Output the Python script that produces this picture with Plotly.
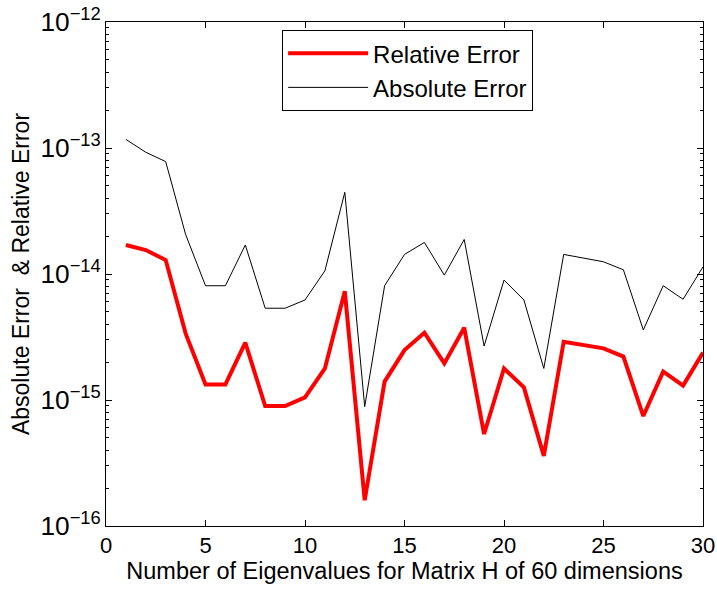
import plotly.graph_objects as go

x_vals = list(range(1, 31))
absolute_error = [1.17e-13, 9.25e-14, 7.8e-14, 2.06e-14, 8.07e-15, 8.07e-15, 1.70e-14, 5.35e-15, 5.35e-15, 6.22e-15,
                  1.06e-14, 4.45e-14, 8.85e-16, 8.07e-15, 1.43e-14, 1.78e-14, 9.8e-15, 1.88e-14, 2.68e-15, 8.95e-15,
                  6.22e-15, 1.78e-15, 1.43e-14, 1.33e-14, 1.25e-14, 1.08e-14, 3.6e-15, 8.07e-15, 6.3e-15, 1.14e-14]
relative_error = [1.70e-14, 1.55e-14, 1.29e-14, 3.38e-15, 1.33e-15, 1.33e-15, 2.85e-15, 8.96e-16, 8.96e-16, 1.05e-15,
                  1.78e-15, 7.3e-15, 1.6e-16, 1.40e-15, 2.49e-15, 3.42e-15, 1.95e-15, 3.75e-15, 5.37e-16, 1.78e-15,
                  1.26e-15, 3.6e-16, 2.9e-15, 2.74e-15, 2.57e-15, 2.21e-15, 7.46e-16, 1.68e-15, 1.30e-15, 2.38e-15]

FONT = "Liberation Sans, Arial, sans-serif"

fig = go.Figure()
fig.add_trace(go.Scatter(x=x_vals, y=relative_error, mode="lines", name="Relative Error",
                         line=dict(color="#ff0000", width=4)))
fig.add_trace(go.Scatter(x=x_vals, y=absolute_error, mode="lines", name="Absolute Error",
                         line=dict(color="#000000", width=1)))

fig.update_layout(
    width=717, height=591,
    margin=dict(l=106, r=14, t=22, b=65),
    paper_bgcolor="white", plot_bgcolor="white",
    font=dict(family=FONT, size=22, color="black"),
    legend=dict(x=0.295, y=0.984, xanchor="left", yanchor="top",
                bordercolor="black", borderwidth=1, bgcolor="white",
                font=dict(size=24), tracegroupgap=0, itemwidth=80),
    xaxis=dict(range=[0, 30], tickvals=[0, 5, 10, 15, 20, 25, 30], automargin=False,
               showline=True, linecolor="black", linewidth=1, mirror="ticks",
               ticks="inside", ticklen=6, tickcolor="black", showgrid=False, zeroline=False,
               tickfont=dict(size=22),
               title=dict(text="Number of Eigenvalues for Matrix H of 60 dimensions", font=dict(size=23.5), standoff=2)),
    yaxis=dict(type="log", range=[-16, -12], dtick=1, exponentformat="power", automargin=False,
               showline=True, linecolor="black", linewidth=1, mirror="ticks",
               ticks="inside", ticklen=6, tickcolor="black", showgrid=False, zeroline=False,
               tickfont=dict(size=21),
               minor=dict(ticks="inside", ticklen=3, dtick="D1", tickcolor="black", showgrid=False),
               title=dict(text="Absolute Error  &amp; Relative Error", font=dict(size=23), standoff=4)),
)

fig.write_html("out.html")
